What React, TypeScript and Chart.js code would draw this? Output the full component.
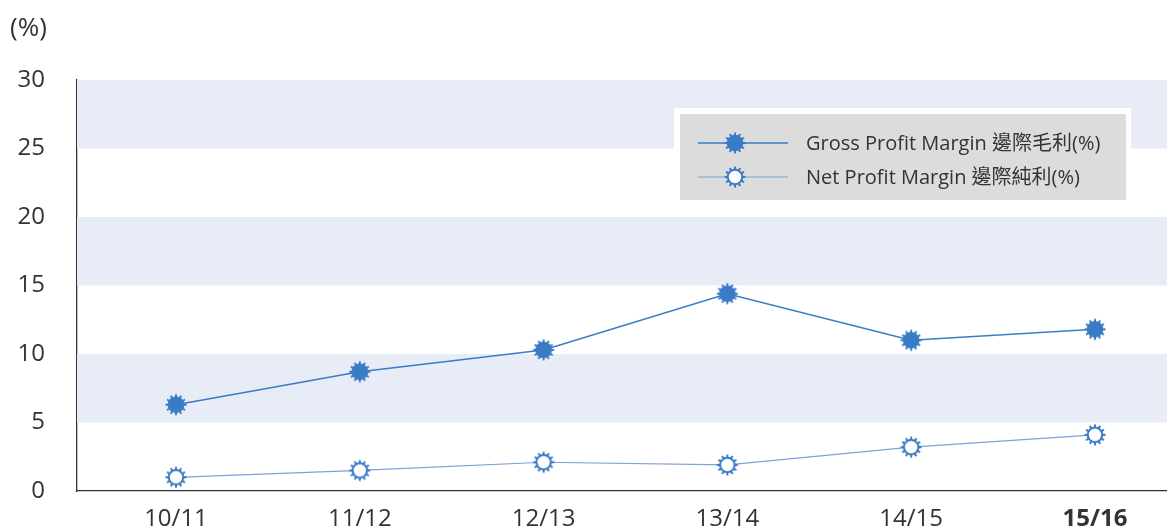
import React, { useEffect, useRef } from "react";
import { Chart, registerables } from "chart.js";

Chart.register(...registerables);

const categories = ["10/11", "11/12", "12/13", "13/14", "14/15", "15/16"];
const grossMargin = [6.3, 8.7, 10.3, 14.4, 11.0, 11.8];
const netMargin = [1.0, 1.5, 2.1, 1.9, 3.2, 4.1];
const yTicks = [0, 5, 10, 15, 20, 25, 30];
const shadedBands = [
  [5, 10],
  [15, 20],
  [25, 30],
];
const legendLabels = ["Gross Profit Margin 邊際毛利(%)", "Net Profit Margin 邊際純利(%)"];
const unitLabel = "(%)";

const FONT = "'Open Sans', 'Noto Sans CJK TC', sans-serif";
const BLUE = "#3a7bc5";
const NET_LINE = "#7da0d6";

function makeGear(filled: boolean): HTMLCanvasElement {
  const s = 24;
  const c = document.createElement("canvas");
  c.width = s;
  c.height = s;
  const g = c.getContext("2d")!;
  const cx = s / 2;
  const cy = s / 2;
  g.fillStyle = BLUE;
  const teeth = 12;
  for (let i = 0; i < teeth; i++) {
    const a = (i / teeth) * Math.PI * 2;
    const w = 0.17;
    g.beginPath();
    g.moveTo(cx + Math.cos(a - w) * 7, cy + Math.sin(a - w) * 7);
    g.lineTo(cx + Math.cos(a - w * 0.5) * 10.5, cy + Math.sin(a - w * 0.5) * 10.5);
    g.lineTo(cx + Math.cos(a + w * 0.5) * 10.5, cy + Math.sin(a + w * 0.5) * 10.5);
    g.lineTo(cx + Math.cos(a + w) * 7, cy + Math.sin(a + w) * 7);
    g.closePath();
    g.fill();
  }
  g.beginPath();
  if (filled) {
    g.arc(cx, cy, 8.3, 0, Math.PI * 2);
    g.fill();
  } else {
    g.arc(cx, cy, 7.2, 0, Math.PI * 2);
    g.fillStyle = "#ffffff";
    g.fill();
    g.lineWidth = 2;
    g.strokeStyle = BLUE;
    g.stroke();
  }
  return c;
}

function zeroPadding(scale: any) {
  scale.paddingLeft = 0;
  scale.paddingRight = 0;
  scale.paddingTop = 0;
  scale.paddingBottom = 0;
}

export default function App() {
  const ref = useRef<HTMLCanvasElement | null>(null);

  useEffect(() => {
    if (!ref.current) return;
    const gearFilled = makeGear(true);
    const gearHollow = makeGear(false);

    const bandsPlugin = {
      id: "bands",
      beforeDatasetsDraw(chart: any) {
        const { ctx, chartArea, scales } = chart;
        const y = scales.y;
        ctx.save();
        ctx.fillStyle = "#e8ecf7";
        shadedBands.forEach(([a, b]) => {
          const y1 = y.getPixelForValue(b);
          const y2 = y.getPixelForValue(a);
          ctx.fillRect(chartArea.left, y1, chartArea.right - chartArea.left, y2 - y1);
        });
        ctx.restore();
      },
    };

    const legendPlugin = {
      id: "customLegend",
      afterDraw(chart: any) {
        const { ctx } = chart;
        ctx.save();
        ctx.fillStyle = "#ffffff";
        ctx.fillRect(674, 108, 457, 100);
        ctx.fillStyle = "#dcdcdc";
        ctx.fillRect(680, 114, 446, 86);
        const rows = [
          { y: 143, img: gearFilled, color: BLUE, w: 1.5 },
          { y: 177, img: gearHollow, color: NET_LINE, w: 1.2 },
        ];
        rows.forEach((r, i) => {
          ctx.strokeStyle = r.color;
          ctx.lineWidth = r.w;
          ctx.beginPath();
          ctx.moveTo(698, r.y);
          ctx.lineTo(788, r.y);
          ctx.stroke();
          ctx.drawImage(r.img, 735 - 12, r.y - 12);
          ctx.fillStyle = "#333333";
          ctx.font = `20px ${FONT}`;
          ctx.textAlign = "left";
          ctx.textBaseline = "middle";
          ctx.fillText(legendLabels[i], 806, r.y + 1);
        });
        ctx.font = `26px ${FONT}`;
        ctx.fillStyle = "#333333";
        ctx.textAlign = "left";
        ctx.textBaseline = "middle";
        ctx.fillText(unitLabel, 10, 29);
        ctx.restore();
      },
    };

    const chart = new Chart(ref.current, {
      type: "line",
      data: {
        datasets: [
          {
            label: legendLabels[0],
            data: grossMargin.map((v, i) => ({ x: i, y: v })),
            borderColor: BLUE,
            borderWidth: 1.5,
            pointStyle: gearFilled as any,
            pointRadius: 10,
            tension: 0,
          },
          {
            label: legendLabels[1],
            data: netMargin.map((v, i) => ({ x: i, y: v })),
            borderColor: NET_LINE,
            borderWidth: 1.2,
            pointStyle: gearHollow as any,
            pointRadius: 10,
            tension: 0,
          },
        ],
      },
      options: {
        animation: false,
        responsive: false,
        maintainAspectRatio: false,
        layout: { autoPadding: false, padding: { top: 80, right: 0, left: 0, bottom: 0 } },
        plugins: {
          legend: { display: false },
          tooltip: { enabled: false },
        },
        scales: {
          x: {
            type: "linear",
            min: -0.5386,
            max: 5.392,
            afterBuildTicks: (scale: any) => {
              scale.ticks = categories.map((_, i) => ({ value: i }));
            },
            afterFit: (scale: any) => {
              scale.height = 41;
              zeroPadding(scale);
            },
            grid: { display: false, drawTicks: false },
            border: { display: true, color: "#333333", width: 1.3 },
            ticks: {
              padding: 14,
              color: "#333333",
              maxRotation: 0,
              autoSkip: false,
              font: (ctx: any) => ({
                family: FONT,
                size: 24,
                weight: ctx.index === categories.length - 1 ? "bold" : "normal",
              }),
              callback: (v: any) => categories[Math.round(Number(v))] ?? "",
            },
          },
          y: {
            min: 0,
            max: 30,
            afterBuildTicks: (scale: any) => {
              scale.ticks = yTicks.map((v) => ({ value: v }));
            },
            afterFit: (scale: any) => {
              scale.width = 77;
              zeroPadding(scale);
            },
            grid: { display: false, drawTicks: false },
            border: { display: true, color: "#333333", width: 1.3 },
            ticks: {
              padding: 32,
              color: "#333333",
              font: { family: FONT, size: 24 },
            },
          },
        },
      },
      plugins: [bandsPlugin, legendPlugin],
    });
    return () => chart.destroy();
  }, []);

  return (
    <div style={{ position: "fixed", left: 0, top: 0, width: 1167, height: 532, background: "#ffffff" }}>
      <canvas ref={ref} width={1167} height={532} style={{ display: "block", width: 1167, height: 532 }} />
    </div>
  );
}
